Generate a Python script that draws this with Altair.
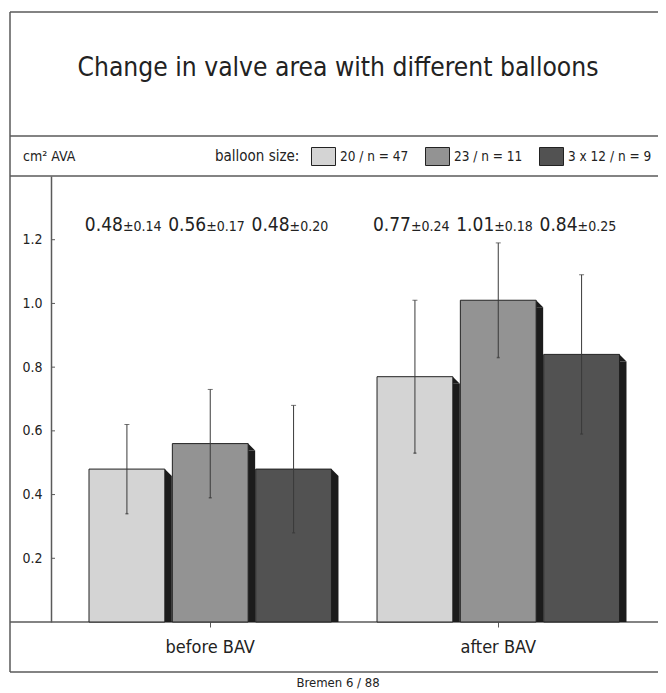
import altair as alt
import pandas as pd

# ---------------- data ----------------
groups = ["before BAV", "after BAV"]
balloons = ["20 / n = 47", "23 / n = 11", "3 x 12 / n = 9"]
before_mean = [0.48, 0.56, 0.48]
before_sd = [0.14, 0.17, 0.20]
after_mean = [0.77, 1.01, 0.84]
after_sd = [0.24, 0.18, 0.25]
y_ticks = [0.2, 0.4, 0.6, 0.8, 1.0, 1.2]

title_text = "Change in valve area with different balloons"
unit_text = "cm² AVA"
legend_title = "balloon size:"
source_text = "Bremen 6 / 88"

# ---------------- styling ----------------
FONT = "Liberation Sans Narrow, DejaVu Sans Condensed, Roboto Condensed, Liberation Sans"
fills = ["#d4d4d4", "#939393", "#525252"]
SHADOW = "#1c1c1c"
FRAME = "#5a5a5a"
INK = "#222222"

rows = []
for g, means, sds in [(groups[0], before_mean, before_sd), (groups[1], after_mean, after_sd)]:
    for b, m, s in zip(balloons, means, sds):
        rows.append({"group": g, "balloon": b, "mean": m, "sd": s,
                     "lo": round(m - s, 2), "hi": round(m + s, 2),
                     "mean_lbl": f"{m:.2f}", "sd_lbl": f"\u00b1{s:.2f}"})
df = pd.DataFrame(rows)
tick_df = pd.DataFrame({"v": y_ticks})
one = pd.DataFrame({"k": [0]})

W, H = 607, 446
GROUP_BW = 250.0          # width of the band holding the three bars of a group
SHADOW_W = 7
BAR_W = 75.8

x_scale = alt.Scale(domain=groups, range=[34.25, 572.25], paddingInner=0.132, paddingOuter=0)
xo_scale = alt.Scale(domain=balloons, paddingInner=0, paddingOuter=0)
shift = BAR_W / 2 + SHADOW_W / 2      # shadow centre sits just right of the bar
xo_shadow = alt.Scale(domain=balloons, range=[shift, shift + GROUP_BW],
                      paddingInner=0, paddingOuter=0)
y_scale = alt.Scale(domain=[0, 1.4], nice=False, zero=True)

x_enc = alt.X("group:N", scale=x_scale, sort=groups, title=None,
              axis=alt.Axis(domain=False, ticks=True, tickSize=5, tickColor=FRAME, tickWidth=1,
                            labelAngle=0, labelPadding=11, labelFontSize=18, labelFont=FONT,
                            labelColor=INK, grid=False))
xo_enc = alt.XOffset("balloon:N", scale=xo_scale, sort=balloons)

base = alt.Chart(df).encode(x=x_enc, xOffset=xo_enc)

bars = base.mark_bar(width=BAR_W, stroke=INK, strokeWidth=1).encode(
    y=alt.Y("mean:Q", scale=y_scale, title=None,
            axis=alt.Axis(values=y_ticks, format=".1f", ticks=False, domain=True,
                          domainColor=FRAME, domainWidth=1.5, labelPadding=9,
                          labelFontSize=14, labelFont=FONT, labelColor=INK, grid=False)),
    color=alt.Color("balloon:N", scale=alt.Scale(domain=balloons, range=fills),
                    legend=alt.Legend(orient="none", legendX=164, legendY=-32,
                                      direction="horizontal", title=legend_title,
                                      titleOrient="left", titleFontSize=15, titleFont=FONT,
                                      titleFontWeight="normal", titleColor=INK, titlePadding=11,
                                      titleBaseline="middle", gridAlign="none",
                                      labelFontSize=13.5, labelFont=FONT, labelColor=INK,
                                      labelOffset=4, columnPadding=14,
                                      symbolType="M-1,-0.75L1,-0.75L1,0.75L-1,0.75Z",
                                      symbolSize=576, symbolStrokeColor=INK,
                                      symbolStrokeWidth=1, symbolOpacity=1)),
)

sbase = alt.Chart(df).encode(
    x=x_enc, xOffset=alt.XOffset("balloon:N", scale=xo_shadow, sort=balloons))
shadow = sbase.mark_rule(strokeWidth=SHADOW_W, color=SHADOW, yOffset=SHADOW_W).encode(
    y=alt.Y("mean:Q", scale=y_scale), y2=alt.datum(0))
corner = sbase.mark_point(shape="M-1,-1L1,1L-1,1Z", size=SHADOW_W ** 2, filled=True, opacity=1,
                          color=SHADOW, yOffset=SHADOW_W / 2).encode(
    y=alt.Y("mean:Q", scale=y_scale))
shadows = alt.layer(shadow, corner)

err = base.mark_rule(color="#3a3a3a", strokeWidth=1).encode(
    y=alt.Y("lo:Q", scale=y_scale), y2="hi:Q")
cap = base.mark_tick(color="#3a3a3a", size=5, thickness=1, orient="horizontal").encode(
    y=alt.Y("hi:Q", scale=y_scale))
foot = base.mark_tick(color="#3a3a3a", size=3, thickness=1.5, orient="horizontal").encode(
    y=alt.Y("lo:Q", scale=y_scale))

lbl_main = base.mark_text(align="right", baseline="alphabetic", fontSize=19, dx=-4,
                          font=FONT, color=INK).encode(y=alt.value(55), text="mean_lbl:N")
lbl_sd = base.mark_text(align="left", baseline="alphabetic", fontSize=14, dx=-4,
                        font=FONT, color=INK).encode(y=alt.value(55), text="sd_lbl:N")

main = alt.layer(bars, err, cap, foot, lbl_main, lbl_sd)

inner_ticks = alt.Chart(tick_df).mark_rule(color=FRAME, strokeWidth=1).encode(
    y=alt.Y("v:Q", scale=y_scale), x=alt.value(0), x2=alt.value(4))

# frame lines (decoration)
def hline(yv):
    return alt.Chart(one).mark_rule(color=FRAME, strokeWidth=1.5).encode(
        x=alt.value(-41), x2=alt.value(W), y=alt.value(yv))

BOTTOM = 496
frame = [hline(-164), hline(-40), hline(0), hline(H), hline(BOTTOM),
         alt.Chart(one).mark_rule(color=FRAME, strokeWidth=1.5).encode(
             x=alt.value(-41), y=alt.value(-164), y2=alt.value(BOTTOM))]

title = alt.Chart(one).mark_text(text=title_text, fontSize=26.2, font=FONT, color=INK,
                                 align="center", baseline="middle").encode(
    x=alt.value(287), y=alt.value(-108))
unit = alt.Chart(one).mark_text(text=unit_text, fontSize=14, font=FONT, color=INK,
                                align="left", baseline="middle").encode(
    x=alt.value(-28), y=alt.value(-19))
source = alt.Chart(one).mark_text(text=source_text, fontSize=13, font=FONT, color=INK,
                                  align="center", baseline="alphabetic").encode(
    x=alt.value(287), y=alt.value(511))

chart = alt.layer(
    *frame, inner_ticks, main, shadows, title, unit, source
).resolve_scale(xOffset="independent").properties(
    width=W, height=H,
    autosize=alt.AutoSizeParams(type="none"),
    padding={"left": 43, "top": 168, "right": 0, "bottom": 71},
    background="white",
).configure_view(stroke=None)

chart.save("out.html", embed_options={"renderer": "svg", "actions": False})
